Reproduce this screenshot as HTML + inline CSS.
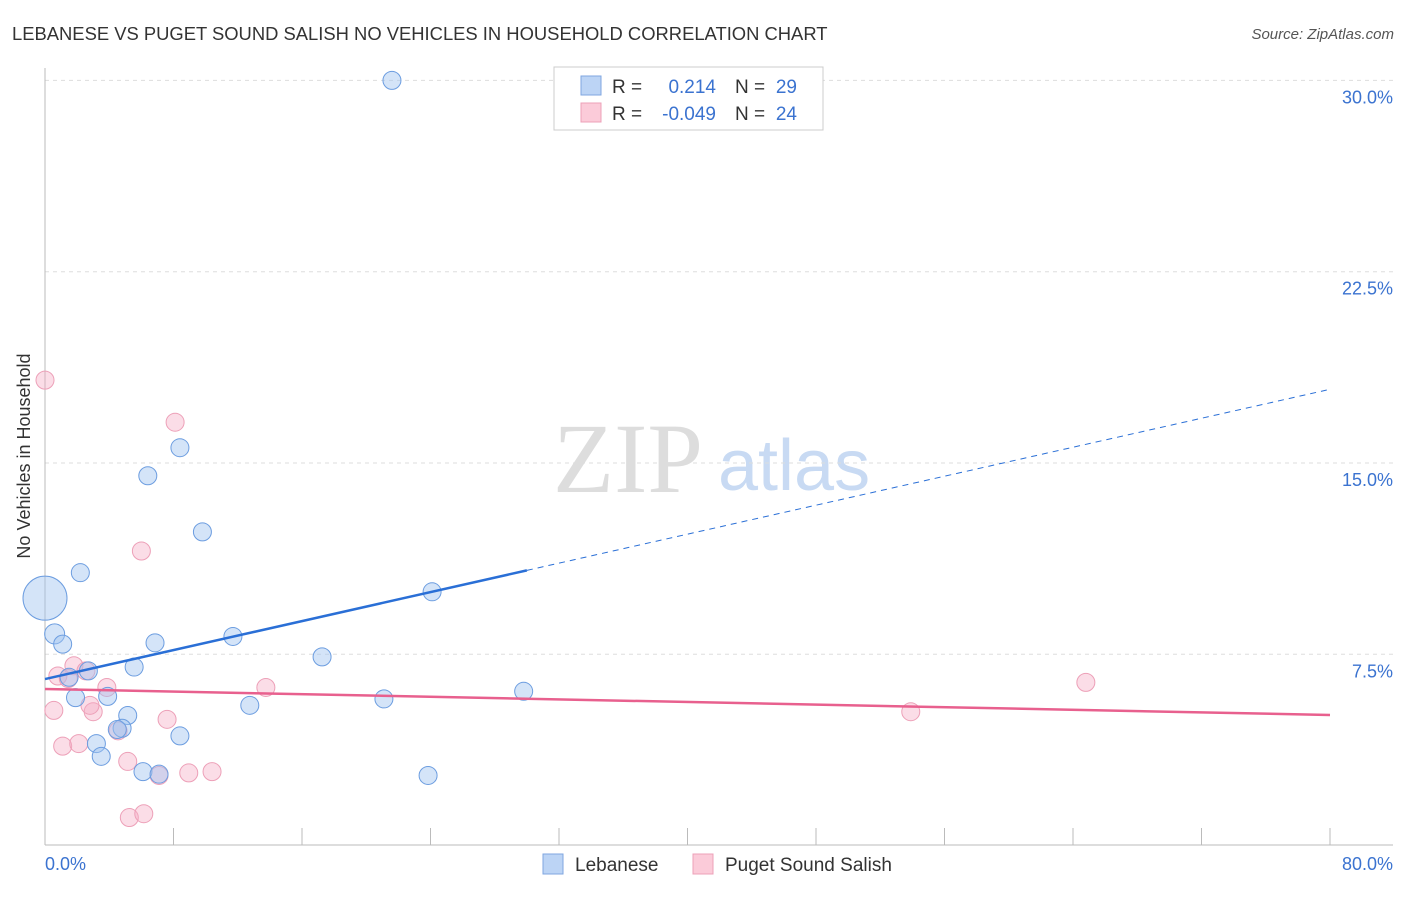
<!DOCTYPE html>
<html><head><meta charset="utf-8"><style>
body{margin:0;background:#fff;font-family:"Liberation Sans",sans-serif;}
</style></head><body>
<svg width="1406" height="892" xmlns="http://www.w3.org/2000/svg" font-family="Liberation Sans, sans-serif">
<text x="12" y="40" font-size="18.4" fill="#333">LEBANESE VS PUGET SOUND SALISH NO VEHICLES IN HOUSEHOLD CORRELATION CHART</text>
<text x="1394" y="39" font-size="15" fill="#555" text-anchor="end" font-style="italic">Source: ZipAtlas.com</text>
<text x="553" y="492" font-size="100" fill="#ddd" font-family="Liberation Serif, serif">ZIP</text>
<text x="718" y="490" font-size="72" fill="#c8daf3">atlas</text>
<g id="grid"></g>
<line x1="45" y1="68" x2="45" y2="845" stroke="#bbb"/>
<line x1="45" y1="845" x2="1393" y2="845" stroke="#bbb"/>
<g id="ticks"></g>
<text x="30" y="456" font-size="18" fill="#333" text-anchor="middle" transform="rotate(-90 30 456)">No Vehicles in Household</text>
<text x="45" y="870" font-size="18" fill="#3b73d0">0.0%</text>
<text x="1393" y="870" font-size="18" fill="#3b73d0" text-anchor="end">80.0%</text>
<g id="pts"></g>
<g id="lines"></g>
<g>
<rect x="554" y="67" width="269" height="63" fill="#fff" stroke="#ccc"/>
<rect x="581" y="76" width="20" height="19" fill="#bcd4f5" stroke="#7fa6e0"/>
<rect x="581" y="103" width="20" height="19" fill="#fbcbd9" stroke="#eda0b8"/>
<text x="612" y="93" font-size="19" fill="#333">R = </text>
<text x="716" y="93" font-size="19" fill="#3b73d0" text-anchor="end">0.214</text>
<text x="735" y="93" font-size="19" fill="#333">N = </text>
<text x="797" y="93" font-size="19" fill="#3b73d0" text-anchor="end">29</text>
<text x="612" y="120" font-size="19" fill="#333">R = </text>
<text x="716" y="120" font-size="19" fill="#3b73d0" text-anchor="end">-0.049</text>
<text x="735" y="120" font-size="19" fill="#333">N = </text>
<text x="797" y="120" font-size="19" fill="#3b73d0" text-anchor="end">24</text>
</g>
<g>
<rect x="543" y="854" width="20" height="20" fill="#bcd4f5" stroke="#7fa6e0"/>
<text x="575" y="871" font-size="19" fill="#333">Lebanese</text>
<rect x="693" y="854" width="20" height="20" fill="#fbcbd9" stroke="#eda0b8"/>
<text x="725" y="871" font-size="19" fill="#333">Puget Sound Salish</text>
</g>
</svg>
<script>
const yTicks=[7.5,15,22.5,30];
const yTickLabels=["7.5%","15.0%","22.5%","30.0%"];
const xTicks=[0,8,16,24,32,40,48,56,64,72,80];
const blueX=[21.6,8.4,6.4,9.8,2.2,24.1,0,0.6,1.1,6.85,11.7,17.25,5.55,2.7,1.5,3.9,1.9,21.1,29.8,12.75,5.15,4.8,4.5,3.2,8.4,3.5,6.1,7.1,23.85];
const blueY=[30.0,15.6,14.5,12.3,10.7,9.95,9.7,8.3,7.9,7.95,8.2,7.4,7.0,6.85,6.6,5.85,5.8,5.75,6.05,5.5,5.1,4.6,4.55,4.0,4.3,3.5,2.9,2.8,2.75];
const blueR=[9,9,9,9,9,9,22,10,9,9,9,9,9,9,9,9,9,9,9,9,9,9,9,9,9,9,9,9,9];
const pinkX=[0,8.1,6.0,1.8,0.8,2.55,1.45,3.85,13.75,64.8,0.55,3.0,2.8,7.6,53.9,1.1,2.1,4.55,5.15,7.1,8.95,10.4,5.25,6.15];
const pinkY=[18.25,16.6,11.55,7.05,6.65,6.85,6.55,6.2,6.2,6.4,5.3,5.25,5.5,4.95,5.25,3.9,4.0,4.5,3.3,2.75,2.85,2.9,1.1,1.25];
const blueTrend=[6.53,0.142];
const pinkTrend=[6.14,-0.01275];
const blueSolidEnd=30;
const NS="http://www.w3.org/2000/svg";
const X=v=>45+v*(1285/80);
const Y=v=>845.6-v*(191.3/7.5);
function mk(t,a,p){const e=document.createElementNS(NS,t);for(const k in a)e.setAttribute(k,a[k]);p.appendChild(e);return e;}
const grid=document.getElementById('grid');
yTicks.forEach((v,i)=>{
 const l=mk('line',{x1:45,x2:1393,y1:Y(v),y2:Y(v),stroke:'#ddd','stroke-dasharray':'4,4'},grid);
 
 
 const t=mk('text',{x:1393,y:Y(v)+23,'font-size':18,fill:'#3b73d0','text-anchor':'end'},grid);
 t.textContent=yTickLabels[i];
 
 
});
const tk=document.getElementById('ticks');
xTicks.forEach(v=>{
 const l=mk('line',{x1:X(v),x2:X(v),y1:828,y2:845,stroke:'#bbb'},tk);
 
 
});
const pts=document.getElementById('pts');
pinkX.forEach((v,i)=>{
 const c=mk('circle',{cx:X(v),cy:Y(pinkY[i]),r:9,fill:'rgba(246,170,195,0.4)',stroke:'#eda0b8','stroke-width':1},pts);
 
 
});
blueX.forEach((v,i)=>{
 const c=mk('circle',{cx:X(v),cy:Y(blueY[i]),r:blueR[i],fill:'rgba(160,195,240,0.45)',stroke:'#6c9de0','stroke-width':1},pts);
 
 
});
const ln=document.getElementById('lines');
const bt=x=>blueTrend[0]+blueTrend[1]*x, pt=x=>pinkTrend[0]+pinkTrend[1]*x;
let a=mk('line',{x1:X(0),y1:Y(bt(0)),x2:X(blueSolidEnd),y2:Y(bt(blueSolidEnd)),stroke:'#2a6fd6','stroke-width':2.5},ln);


a=mk('line',{x1:X(blueSolidEnd),y1:Y(bt(blueSolidEnd)),x2:X(80),y2:Y(bt(80)),stroke:'#2a6fd6','stroke-width':1,'stroke-dasharray':'6,5'},ln);


a=mk('line',{x1:X(0),y1:Y(pt(0)),x2:X(80),y2:Y(pt(80)),stroke:'#e8608e','stroke-width':2.5},ln);


</script>
</body></html>
